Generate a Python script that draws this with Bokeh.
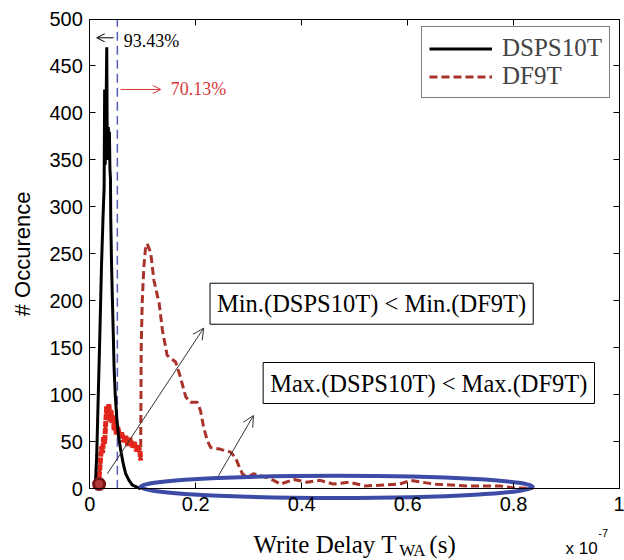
import numpy as np
from bokeh.plotting import figure
from bokeh.models import (Range1d, LinearAxis, FixedTicker, Legend, LegendItem,
                          Label, Arrow, OpenHead)
from bokeh.embed import file_html
from bokeh.resources import INLINE

# Write delay histograms; x in units of 1e-7 s
dsps10t_x = [0.010, 0.013, 0.016, 0.019, 0.022, 0.025, 0.027, 0.028, 0.029, 0.030,
             0.032, 0.033, 0.034, 0.035, 0.036, 0.037, 0.038, 0.039, 0.0395, 0.041,
             0.0427, 0.0445, 0.0458, 0.048, 0.0508, 0.054, 0.0584, 0.063, 0.0678,
             0.074, 0.0804, 0.088, 0.096]
dsps10t_y = [0, 35, 100, 165, 236, 290, 320, 425, 345, 365,
             470, 350, 360, 385, 350, 380, 340, 330, 289, 240,
             200, 160, 129, 100, 76, 57, 41, 27, 16,
             9, 4, 2, 0]

df9t_x = [0.0175, 0.020, 0.022, 0.024, 0.026, 0.028, 0.030, 0.032, 0.034, 0.036,
          0.038, 0.040, 0.042, 0.044, 0.046, 0.048, 0.050, 0.053, 0.056, 0.060,
          0.064, 0.068, 0.072, 0.076, 0.080, 0.084, 0.088, 0.092, 0.095, 0.096,
          0.097, 0.099, 0.102, 0.105, 0.1085, 0.115, 0.121, 0.131, 0.137, 0.146,
          0.162, 0.171, 0.181, 0.190, 0.203, 0.209, 0.215, 0.222, 0.228, 0.247,
          0.266, 0.275, 0.281, 0.288, 0.297, 0.309, 0.322, 0.334, 0.347, 0.360,
          0.385, 0.410, 0.435, 0.460, 0.490, 0.520, 0.585, 0.605, 0.650, 0.712,
          0.775, 0.800, 0.837]
df9t_y = [12, 30, 45, 38, 55, 48, 70, 88, 75, 90,
          72, 84, 70, 78, 62, 70, 58, 66, 55, 60,
          50, 56, 46, 54, 44, 50, 40, 46, 38, 30,
          150, 200, 236, 255, 261, 251, 222, 197, 169, 142,
          135, 119, 98, 92, 92, 83, 65, 51, 44, 42,
          39, 33, 25, 16, 12, 16, 14, 12, 9, 5,
          10, 7, 9, 5, 7, 3, 5, 9, 5, 3,
          3, 1, 0.5]

x_ticks = [0, 0.2, 0.4, 0.6, 0.8, 1]
x_tick_labels = ["0", "0.2", "0.4", "0.6", "0.8", "1"]
y_ticks = list(range(0, 501, 50))
x_lo, x_hi = 0, 1
y_lo, y_hi = 0, 500

threshold_x = 0.052
dsps_share = "93.43%"
df9t_share = "70.13%"
min_note = "Min.(DSPS10T) < Min.(DF9T)"
max_note = "Max.(DSPS10T) < Max.(DF9T)"

# spread ellipse (centre, half-axes) in data units
ell_cx, ell_cy, ell_rx, ell_ry = 0.466, 2.1, 0.37, 11.8

SERIF = "Liberation Serif"
SANS = "Liberation Sans"
BLACK = "#000000"
DARK_RED = "#a8332a"
BRIGHT_RED = "#e3261c"
BLUE = "#3c4ba6"

# The frame fills the whole canvas; the axes sit at fixed data locations so
# that the axis titles can be placed around them as ordinary labels.
p = figure(width=624, height=560, output_backend="svg", toolbar_location=None,
           x_range=Range1d(-0.1686, 1.0094), y_range=Range1d(-76.3, 519.7),
           min_border=0, background_fill_color="white",
           border_fill_color="white")
p.grid.visible = False
p.outline_line_color = None


def style_axis(ax, ticks, bounds, where, labels=True):
    ax.ticker = FixedTicker(ticks=ticks)
    ax.bounds = bounds
    ax.fixed_location = where
    ax.axis_line_color = "black"
    ax.axis_line_width = 1
    ax.major_tick_in = 6
    ax.major_tick_out = 0
    ax.minor_tick_line_color = None
    ax.major_tick_line_color = "black"
    ax.major_label_text_font = SANS
    ax.major_label_text_font_size = "20px"
    ax.major_label_text_color = "black" if labels else None


xa = p.xaxis[0]
style_axis(xa, x_ticks, (x_lo, x_hi), y_lo)
xa.major_label_overrides = {t: s for t, s in zip(x_ticks, x_tick_labels)}
xa.major_label_standoff = 8

ya = p.yaxis[0]
style_axis(ya, y_ticks, (y_lo, y_hi), x_lo)
ya.major_label_standoff = 7

top_ax = LinearAxis()
style_axis(top_ax, x_ticks, (x_lo, x_hi), y_hi, labels=False)
p.add_layout(top_ax, "above")
right_ax = LinearAxis()
style_axis(right_ax, y_ticks, (y_lo, y_hi), x_hi, labels=False)
p.add_layout(right_ax, "right")

# threshold line
p.segment(x0=[threshold_x], y0=[y_lo], x1=[threshold_x], y1=[y_hi],
          line_color="#5560b5", line_width=1.5, line_dash="9 5")

# DF9T curve; the noisy low-delay part is drawn heavier in bright red
r_df9t = p.line(df9t_x, df9t_y, line_color=DARK_RED, line_width=3, line_dash="8 4")
early = [i for i, v in enumerate(df9t_x) if v <= 0.096]
p.line([df9t_x[i] for i in early], [df9t_y[i] for i in early],
       line_color=BRIGHT_RED, line_width=5, line_dash="6 1")

# DSPS10T curve
r_dsps = p.line(dsps10t_x, dsps10t_y, line_color=BLACK, line_width=3)

# start-of-distribution marker
p.scatter([df9t_x[0]], [5], size=11, marker="circle", fill_color="#b23a3a",
          line_color="#7a1515", line_width=3)

# spread ellipse
p.ellipse(x=[ell_cx], y=[ell_cy], width=[2 * ell_rx], height=[2 * ell_ry],
          fill_color=None, line_color=BLUE, line_width=4)

# share arrows
p.add_layout(Arrow(end=OpenHead(size=8, line_color=BLACK, line_width=1),
                   x_start=0.045, y_start=480, x_end=0.013, y_end=480,
                   line_color=BLACK, line_width=1))
p.add_layout(Label(x=0.064, y=477, text=dsps_share, text_font=SERIF,
                   text_font_size="18px", text_color=BLACK, text_baseline="middle"))
p.add_layout(Arrow(end=OpenHead(size=8, line_color="#d63a3a", line_width=1),
                   x_start=0.058, y_start=425, x_end=0.134, y_end=425,
                   line_color="#d63a3a", line_width=1))
p.add_layout(Label(x=0.153, y=425, text=df9t_share, text_font=SERIF,
                   text_font_size="18px", text_color="#d63a3a", text_baseline="middle"))

# annotation arrows
p.add_layout(Arrow(end=OpenHead(size=11, line_color="#333333", line_width=1),
                   x_start=0.033, y_start=16, x_end=0.215, y_end=171,
                   line_color="#333333", line_width=1))
p.add_layout(Arrow(end=OpenHead(size=11, line_color="#333333", line_width=1),
                   x_start=0.243, y_start=14, x_end=0.309, y_end=78,
                   line_color="#333333", line_width=1))

# boxed notes
for xc, yc, txt in [(0.532, 197, min_note), (0.640, 112.6, max_note)]:
    p.add_layout(Label(x=xc, y=yc, text=txt, text_font=SERIF, text_font_size="24.5px",
                       text_color=BLACK, text_align="center", text_baseline="middle",
                       border_line_color="black", border_line_width=1,
                       background_fill_color="white", padding=7))

# axis titles
p.add_layout(Label(x=-0.127, y=250, text="# Occurence", text_font=SANS,
                   text_font_size="22px", angle=np.pi / 2, text_align="center",
                   text_baseline="middle", text_color=BLACK))
p.add_layout(Label(x=0.309, y=-59, text="Write Delay T", text_font=SERIF,
                   text_font_size="25px", text_baseline="middle", text_color=BLACK))
p.add_layout(Label(x=0.584, y=-65.5, text="WA", text_font=SERIF,
                   text_font_size="17px", text_baseline="middle", text_color=BLACK))
p.add_layout(Label(x=0.641, y=-59, text="(s)", text_font=SERIF,
                   text_font_size="25px", text_baseline="middle", text_color=BLACK))
p.add_layout(Label(x=0.898, y=-64, text="x 10", text_font=SANS,
                   text_font_size="17px", text_baseline="middle", text_color=BLACK))
p.add_layout(Label(x=0.960, y=-47, text="-7", text_font=SANS,
                   text_font_size="11px", text_baseline="middle", text_color=BLACK))

legend = Legend(items=[LegendItem(label="DSPS10T", renderers=[r_dsps]),
                       LegendItem(label="DF9T", renderers=[r_df9t])],
                location=(421, 462), label_text_font=SERIF,
                label_text_font_size="25px", glyph_width=63, glyph_height=27,
                label_height=27, spacing=0, padding=7, label_standoff=10,
                border_line_color="black", border_line_width=1,
                background_fill_color="white", background_fill_alpha=1)
p.add_layout(legend)

open("out.html", "w").write(file_html(p, INLINE))
